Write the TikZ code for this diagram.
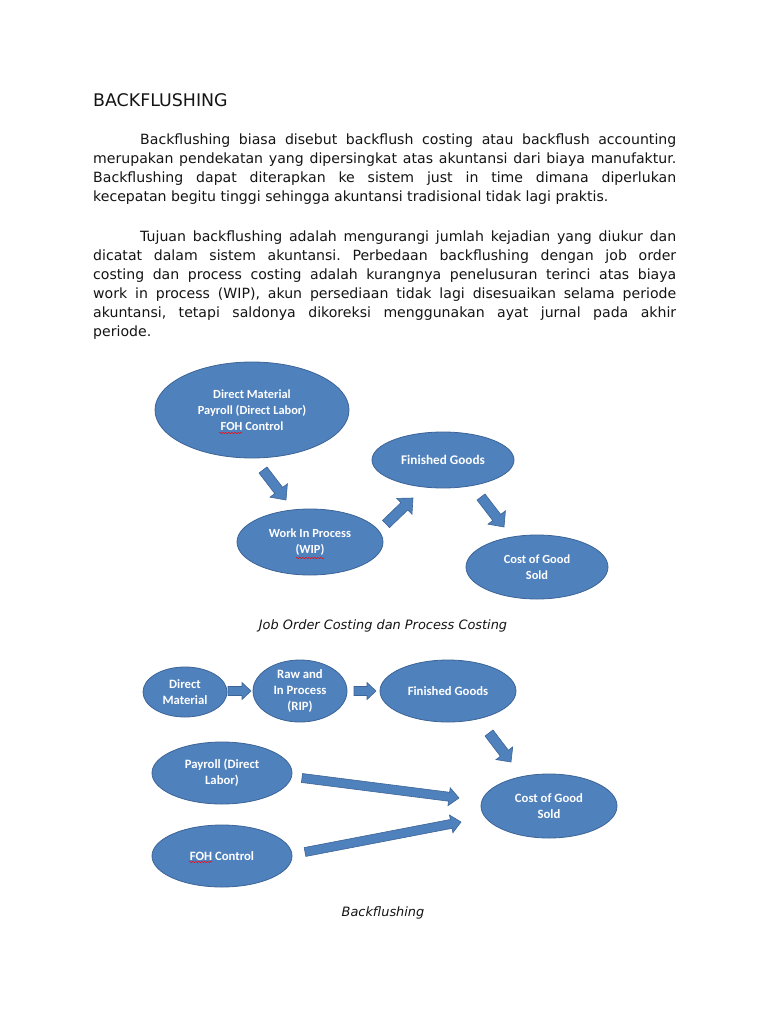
\documentclass[tikz,border=0pt]{standalone}
\usepackage{fontspec}
\setmainfont{DejaVu Sans}
\newfontfamily\calfont{Carlito}
\usetikzlibrary{calc,shapes.geometric,decorations.pathmorphing}
\definecolor{ofblue}{RGB}{79,129,189}
\definecolor{ofedge}{RGB}{60,100,150}
\definecolor{txt}{RGB}{20,20,20}
\newcommand\jl[1]{\makebox[583pt][s]{#1}\par}
\newcommand\blockarrow[5]{%
  \coordinate (bh) at ($(#2)!#5!(#1)$);
  \filldraw[barrow] ($(#1)!#3!90:(#2)$) -- ($(bh)!#3!90:(#2)$) -- ($(bh)!#4!90:(#2)$) -- (#2)
    -- ($(bh)!#4!-90:(#2)$) -- ($(bh)!#3!-90:(#2)$) -- ($(#1)!#3!-90:(#2)$) -- cycle;}
\begin{document}
\begin{tikzpicture}[x=1pt,y=-1pt,
  ell/.style={ellipse, fill=ofblue, draw=ofedge, line width=0.8pt, inner sep=0pt},
  lbl/.style={text=white, font=\calfont\bfseries\fontsize{12.4}{16}\selectfont, align=center, inner sep=0pt},
  lblb/.style={text=white, font=\calfont\bfseries\fontsize{12.7}{16}\selectfont, align=center, inner sep=0pt},
  barrow/.style={fill=ofblue, draw=ofedge, line width=0.6pt, line join=miter},
  body/.style={anchor=base west, inner sep=0pt, text=txt, font=\fontsize{14.1}{19}\selectfont\frenchspacing},
  capt/.style={inner sep=0pt, text=txt, font=\itshape\fontsize{12.9}{15}\selectfont},
  squig/.style={draw=red, line width=0.5pt, decorate, decoration={snake, amplitude=0.6pt, segment length=3pt}}]
\fill[white] (0,0) rectangle (768,1024);
\useasboundingbox (0,0) rectangle (768,1024);

% text
\node[anchor=base west, inner sep=0pt, text=txt, font=\fontsize{17.4}{20}\selectfont] (title) at (93,107) {BACKFLUSHING};
\node[body] (p1) at (93,145) {\parbox[t]{583pt}{%
\jl{\hspace*{47pt}Backflushing biasa disebut backflush costing atau backflush accounting}%
\jl{merupakan pendekatan yang dipersingkat atas akuntansi dari biaya manufaktur.}%
\jl{Backflushing dapat diterapkan ke sistem just in time dimana diperlukan}%
kecepatan begitu tinggi sehingga akuntansi tradisional tidak lagi praktis.}};
\node[body] (p2) at (93,241) {\parbox[t]{583pt}{%
\jl{\hspace*{47pt}Tujuan backflushing adalah mengurangi jumlah kejadian yang diukur dan}%
\jl{dicatat dalam sistem akuntansi. Perbedaan backflushing dengan job order}%
\jl{costing dan process costing adalah kurangnya penelusuran terinci atas biaya}%
\jl{work in process (WIP), akun persediaan tidak lagi disesuaikan selama periode}%
\jl{akuntansi, tetapi saldonya dikoreksi menggunakan ayat jurnal pada akhir}%
periode.}};

% diagram 1
\node[ell, minimum width=194pt, minimum height=96pt,
  label={[lbl]center:Direct Material\\Payroll (Direct Labor)\\FOH Control}] (raw) at (252,410) {};
\node[ell, minimum width=142pt, minimum height=56pt,
  label={[lbl, font=\calfont\bfseries\fontsize{13.2}{16}\selectfont]center:Finished Goods}] (fg) at (443,460) {};
\node[ell, minimum width=146pt, minimum height=66pt,
  label={[lbl]center:Work In Process\\(WIP)}] (wip) at (310,542) {};
\node[ell, minimum width=142pt, minimum height=64pt,
  label={[lbl]center:Cost of Good\\Sold}] (cogs) at (537,567) {};
\draw[squig] (219,433) -- (242,433);
\draw[squig] (296,558) -- (324,558);

\coordinate (a1s) at (263,470); \coordinate (a1e) at (286,500);
\coordinate (a2s) at (386,524); \coordinate (a2e) at (413,498);
\coordinate (a3s) at (481,497); \coordinate (a3e) at (504,527);
\blockarrow{a1s}{a1e}{5pt}{11pt}{12pt}
\blockarrow{a2s}{a2e}{5pt}{11pt}{12pt}
\blockarrow{a3s}{a3e}{5pt}{11pt}{12pt}

\node[capt] (cap1) at (383,626) {Job Order Costing dan Process Costing};

% diagram 2
\node[ell, minimum width=84pt, minimum height=50pt,
  label={[lblb]center:Direct\\Material}] (dm) at (185,692) {};
\node[ell, minimum width=94pt, minimum height=62pt,
  label={[lblb]center:Raw and\\In Process\\(RIP)}] (rip) at (300,691) {};
\node[ell, minimum width=136pt, minimum height=62pt,
  label={[lblb]center:Finished Goods}] (fg2) at (448,691) {};
\node[ell, minimum width=140pt, minimum height=62pt,
  label={[lblb]center:Payroll (Direct\\Labor)}] (pay) at (222,773) {};
\node[ell, minimum width=140pt, minimum height=62pt,
  label={[lblb]center:FOH Control}] (foh) at (222,856) {};
\node[ell, minimum width=136pt, minimum height=64pt,
  label={[lblb]center:Cost of Good\\Sold}] (cogs2) at (549,806) {};
\draw[squig] (189,862) -- (212,862);

\coordinate (b1s) at (228,691); \coordinate (b1e) at (251,691);
\coordinate (b2s) at (354,691); \coordinate (b2e) at (376,691);
\coordinate (b3s) at (489,733); \coordinate (b3e) at (511,762);
\coordinate (b4s) at (302,778); \coordinate (b4e) at (459,798);
\coordinate (b5s) at (305,852); \coordinate (b5e) at (461,822);
\blockarrow{b1s}{b1e}{4.5pt}{8.5pt}{9pt}
\blockarrow{b2s}{b2e}{4.5pt}{8.5pt}{9pt}
\blockarrow{b3s}{b3e}{5pt}{10.5pt}{11pt}
\blockarrow{b4s}{b4e}{4.5pt}{9pt}{10pt}
\blockarrow{b5s}{b5e}{4.5pt}{9pt}{10pt}

\node[capt] (cap2) at (383,913) {Backflushing};
\end{tikzpicture}
\end{document}
